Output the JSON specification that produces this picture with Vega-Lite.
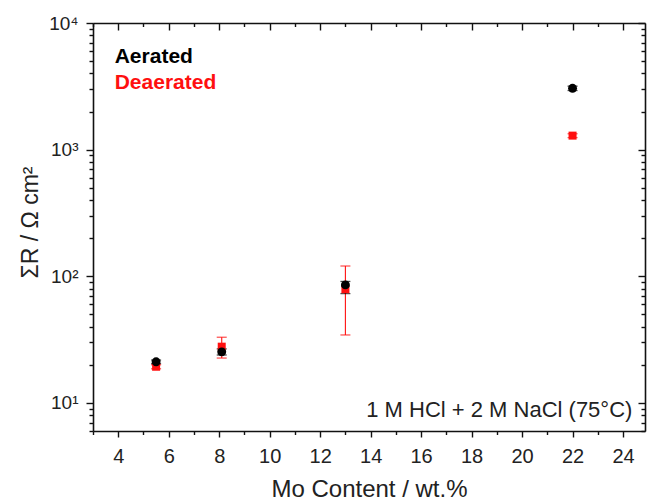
{
  "$schema": "https://vega.github.io/schema/vega-lite/v6.json",
  "width": 552,
  "height": 408,
  "autosize": "none",
  "padding": {"left": 93, "top": 23, "right": 4, "bottom": 71},
  "background": "white",
  "config": {
    "font": "Liberation Sans",
    "view": {"stroke": null},
    "axis": {
      "grid": false,
      "domain": false,
      "tickColor": "#111111",
      "tickWidth": 1.4,
      "labelColor": "#222222",
      "labelFont": "Liberation Sans",
      "labelOverlap": false,
      "labelFlush": false,
      "titleFont": "Liberation Sans",
      "titleFontWeight": "normal",
      "titleColor": "#222222"
    }
  },
  "datasets": {
    "resistance": [
      {"series": "Deaerated", "mo": 5.5, "r": 19.3, "lo": 18.6, "hi": 20.0},
      {"series": "Deaerated", "mo": 8.1, "r": 27.8, "lo": 22.6, "hi": 33.0},
      {"series": "Deaerated", "mo": 13, "r": 79, "lo": 34.4, "hi": 120.5},
      {"series": "Deaerated", "mo": 22, "r": 1290, "lo": 1245, "hi": 1335},
      {"series": "Aerated", "mo": 5.5, "r": 21.1, "lo": 20.4, "hi": 21.8},
      {"series": "Aerated", "mo": 8.1, "r": 25.3, "lo": 23.9, "hi": 26.7},
      {"series": "Aerated", "mo": 13, "r": 85.5, "lo": 73, "hi": 91},
      {"series": "Aerated", "mo": 22, "r": 3050, "lo": 2930, "hi": 3170}
    ],
    "legendText": [
      {"series": "Aerated", "mo": 3.86, "r": 4850, "label": "Aerated"},
      {"series": "Deaerated", "mo": 3.86, "r": 2990, "label": "Deaerated"}
    ],
    "note": [
      {"mo": 24.37, "r": 7.8, "label": "1 M HCl + 2 M NaCl (75°C)"}
    ]
  },
  "resolve": {
    "scale": {"x": "shared", "y": "shared", "size": "independent"},
    "axis": {"x": "independent", "y": "independent"}
  },
  "layer": [
    {
      "description": "Error bar stems with the main labelled axes",
      "data": {"name": "resistance"},
      "mark": {"type": "rule"},
      "encoding": {
        "x": {
          "field": "mo", "type": "quantitative",
          "scale": {"domain": [3, 24.87], "nice": false, "zero": false},
          "axis": {
            "orient": "bottom",
            "values": [4, 6, 8, 10, 12, 14, 16, 18, 20, 22, 24],
            "domain": true, "domainColor": "#111111", "domainWidth": 1.6,
            "tickSize": 6, "labelPadding": 9, "labelFontSize": 20,
            "title": "Mo Content / wt.%", "titleFontSize": 24,
            "titleX": 276, "titleY": 65, "titleBaseline": "alphabetic", "titleAlign": "center"
          }
        },
        "y": {
          "field": "lo", "type": "quantitative",
          "scale": {"type": "log", "domain": [6, 10000], "nice": false},
          "axis": {
            "orient": "left",
            "values": [10, 100, 1000, 10000],
            "domain": true, "domainColor": "#111111", "domainWidth": 1.6,
            "tickSize": 7, "labelPadding": 8, "labelFontSize": 19,
            "labelExpr": "datum.value >= 10000 ? '10⁴' : datum.value >= 1000 ? '10³' : datum.value >= 100 ? '10²' : '10¹'",
            "title": "ΣR / Ω cm²", "titleFontSize": 23,
            "titleAngle": 270, "titleX": -56, "titleY": 199,
            "titleBaseline": "alphabetic", "titleAlign": "center"
          }
        },
        "y2": {"field": "hi"},
        "color": {
          "field": "series", "type": "nominal",
          "scale": {"domain": ["Aerated", "Deaerated"], "range": ["#000000", "#ff1010"]},
          "legend": null
        },
        "strokeWidth": {
          "field": "series", "type": "nominal",
          "scale": {"domain": ["Aerated", "Deaerated"], "range": [1.6, 1.1]},
          "legend": null
        }
      }
    },
    {
      "description": "Lower caps with the minor ticks on the bottom and left",
      "data": {"name": "resistance"},
      "mark": {"type": "tick", "orient": "horizontal", "thickness": 1.3, "size": 10},
      "encoding": {
        "x": {
          "field": "mo", "type": "quantitative",
          "axis": {
            "orient": "bottom",
            "values": [3, 5, 7, 9, 11, 13, 15, 17, 19, 21, 23],
            "tickSize": 3.5, "labels": false, "title": null
          }
        },
        "y": {
          "field": "lo", "type": "quantitative",
          "axis": {
            "orient": "left",
            "values": [6, 7, 8, 9, 20, 30, 40, 50, 60, 70, 80, 90, 200, 300, 400, 500, 600, 700, 800, 900, 2000, 3000, 4000, 5000, 6000, 7000, 8000, 9000],
            "tickSize": 4, "labels": false, "title": null
          }
        },
        "color": {"field": "series", "type": "nominal", "legend": null}
      }
    },
    {
      "description": "Upper caps with the inward major ticks on the top and right",
      "data": {"name": "resistance"},
      "mark": {"type": "tick", "orient": "horizontal", "thickness": 1.3, "size": 10},
      "encoding": {
        "x": {
          "field": "mo", "type": "quantitative",
          "axis": {
            "orient": "top",
            "values": [4, 6, 8, 10, 12, 14, 16, 18, 20, 22, 24],
            "domain": true, "domainColor": "#111111", "domainWidth": 1.6,
            "tickSize": -7, "labels": false, "title": null
          }
        },
        "y": {
          "field": "hi", "type": "quantitative",
          "axis": {
            "orient": "right",
            "values": [10, 100, 1000, 10000],
            "domain": true, "domainColor": "#111111", "domainWidth": 1.6,
            "tickSize": -7, "labels": false, "title": null
          }
        },
        "color": {"field": "series", "type": "nominal", "legend": null}
      }
    },
    {
      "description": "Measured points with the inward minor ticks on the top and right",
      "data": {"name": "resistance"},
      "mark": {"type": "point", "filled": true, "opacity": 1},
      "encoding": {
        "x": {
          "field": "mo", "type": "quantitative",
          "axis": {
            "orient": "top",
            "values": [3, 5, 7, 9, 11, 13, 15, 17, 19, 21, 23],
            "tickSize": -3.5, "labels": false, "title": null
          }
        },
        "y": {
          "field": "r", "type": "quantitative",
          "axis": {
            "orient": "right",
            "values": [6, 7, 8, 9, 20, 30, 40, 50, 60, 70, 80, 90, 200, 300, 400, 500, 600, 700, 800, 900, 2000, 3000, 4000, 5000, 6000, 7000, 8000, 9000],
            "tickSize": -4, "labels": false, "title": null
          }
        },
        "color": {"field": "series", "type": "nominal", "legend": null},
        "shape": {
          "field": "series", "type": "nominal",
          "scale": {"domain": ["Aerated", "Deaerated"], "range": ["circle", "square"]},
          "legend": null
        },
        "size": {
          "field": "series", "type": "nominal",
          "scale": {"domain": ["Aerated", "Deaerated"], "range": [80, 64]},
          "legend": null
        }
      }
    },
    {
      "description": "Series names written in their own colours",
      "data": {"name": "legendText"},
      "mark": {"type": "text", "align": "left", "baseline": "alphabetic", "fontSize": 21, "fontWeight": "bold", "font": "Liberation Sans"},
      "encoding": {
        "x": {"field": "mo", "type": "quantitative", "axis": null},
        "y": {"field": "r", "type": "quantitative", "axis": null},
        "text": {"field": "label"},
        "color": {"field": "series", "type": "nominal", "legend": null}
      }
    },
    {
      "description": "Test solution note",
      "data": {"name": "note"},
      "mark": {"type": "text", "align": "right", "baseline": "alphabetic", "fontSize": 22, "font": "Liberation Sans", "color": "#222222"},
      "encoding": {
        "x": {"field": "mo", "type": "quantitative", "axis": null},
        "y": {"field": "r", "type": "quantitative", "axis": null},
        "text": {"field": "label"}
      }
    }
  ]
}
